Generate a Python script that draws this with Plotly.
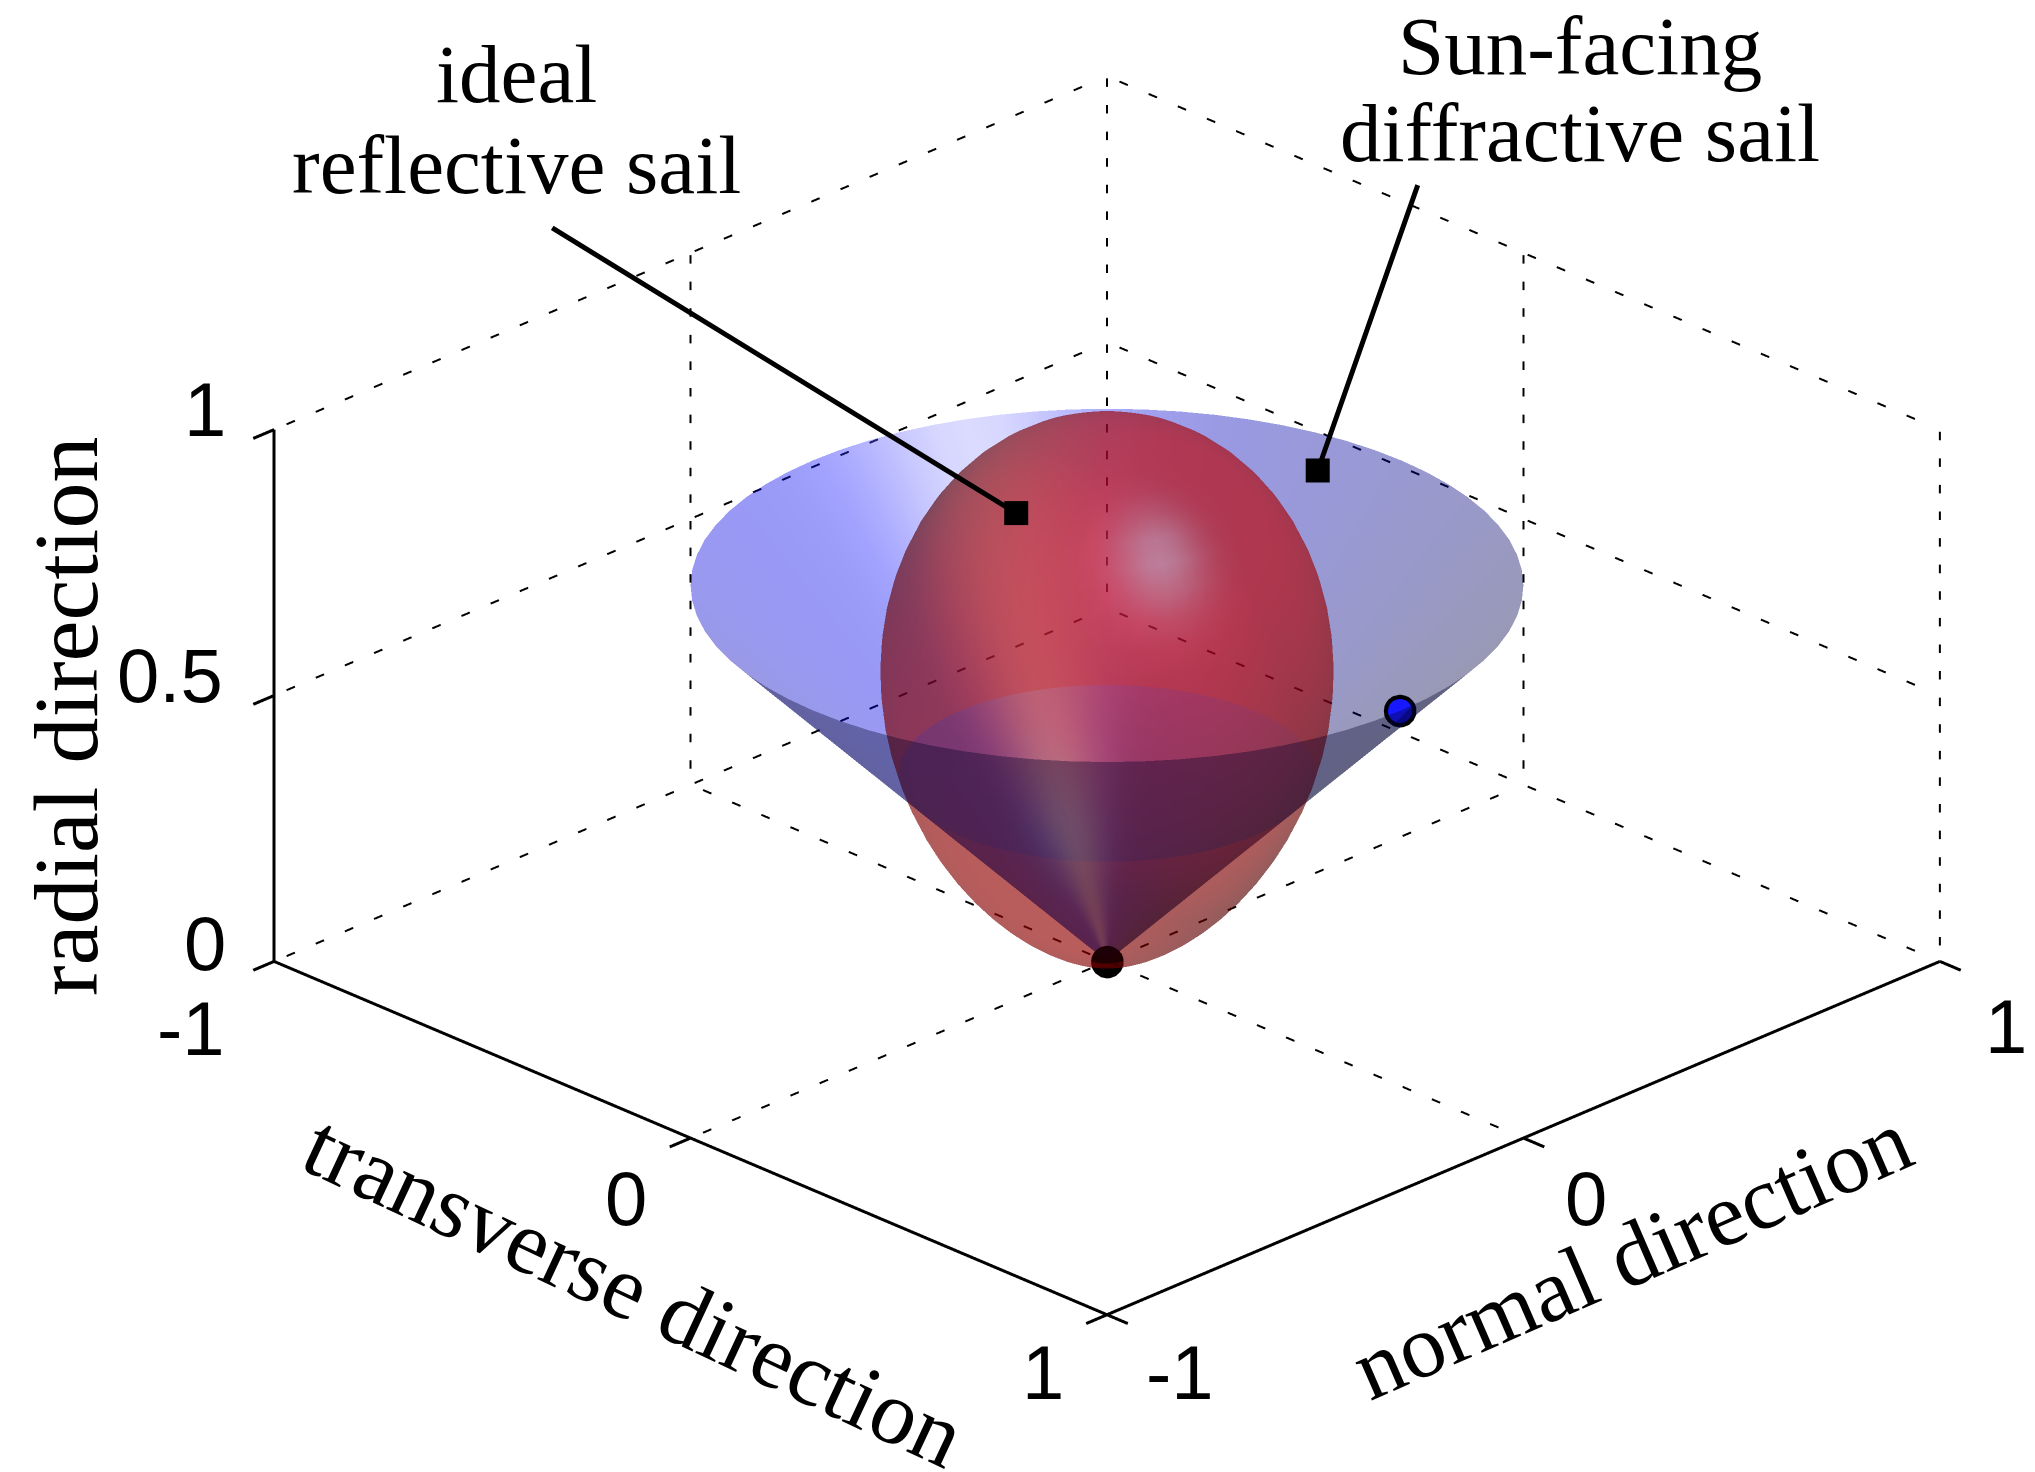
import numpy as np
import plotly.graph_objects as go

W, H = 2035, 1472

# radial profile of the ideal reflective sail
ball_z = [1.0, .99715, .9886, .97455, .9551, .93057, .9012, .86748, .8298, .78858, .7444, .69789, .6495, .59991, .5497, .49934,
          .4495, .40077, .3536, .30835, .2656, .2256, .1887, .15511, .125, .09845, .0755, .05604, .04, .02719, .0173, .01014,
          .0052, .00222, .0007, .00008, 0.0]
ball_r = [0.0, .04354, .0865, .12831, .1684, .2063, .2415, .27352, .302, .32664, .3471, .3633, .375, .38219, .3849, .38316,
          .3772, .36724, .3536, .33651, .3165, .29401, .2695, .24348, .2165, .18912, .1619, .1353, .1099, .08624, .0647, .04574,
          .0297, .01689, .0076, .0019, 0.0]
# profile of the Sun-facing diffractive sail
cone_z = [0.0, .1, .2, .3, .3536, .4, .5, .6, .707]
cone_r = [0.0, .1, .2, .3, .3536, .4, .5, .6, .707]
# markers
blue_point = (0.394, 0.309, 0.5)
origin_point = (0.0, 0.0, 0.0)
# ticks
t_ticks = [-1, 0, 1]
n_ticks = [-1, 0, 1]
z_ticks = [0, 0.5, 1]

az = np.radians(np.arange(0, 361, 5))
elev = np.radians(25.1)
S2 = np.sqrt(2)


def uvz(a, b, c):
    """vector given in screen-right / screen-back / up, as x, y, z"""
    return np.array([(a - b) / S2, (a + b) / S2, c])


VIEW = uvz(0, -np.cos(elev), np.sin(elev))
HALF = uvz(.25, -.70, .66)
HALF = HALF / np.linalg.norm(HALF)
LIGHT = 2 * HALF.dot(VIEW) * HALF - VIEW
KD, KS, POW = 0.76, 0.7, 40


def layer(r, z, base, ka, front, zlo=-1.0, zhi=2.0, opacity=0.4):
    """One draw layer of a surface of revolution: its viewer-facing or far side, between two heights."""
    r = np.array(r, float)
    z = np.array(z, float)
    nr, na = len(r), len(az)
    dr = np.gradient(r)
    dz = np.gradient(z)
    L = np.hypot(dr, dz) + 1e-12
    nh = np.abs(dz) / L
    nv = -np.sign(dz) * dr / L
    X = np.outer(r, np.cos(az))
    Y = np.outer(r, np.sin(az))
    Z = np.outer(z, np.ones(na))
    NX = np.outer(nh, np.cos(az))
    NY = np.outer(nh, np.sin(az))
    NZ = np.outer(nv, np.ones(na))
    facing = NX * VIEW[0] + NY * VIEW[1] + NZ * VIEW[2]
    ti, tj, tk = [], [], []
    for a in range(nr - 1):
        for b in range(na - 1):
            zm = (Z[a, b] + Z[a + 1, b]) / 2
            fm = (facing[a, b] + facing[a + 1, b] + facing[a, b + 1] + facing[a + 1, b + 1]) / 4
            if zlo < zm < zhi and (fm >= 0) == front:
                p, q, s, t = a * na + b, a * na + b + 1, (a + 1) * na + b, (a + 1) * na + b + 1
                ti += [p, q]
                tj += [q, t]
                tk += [s, s]
    sg = 1.0 if front else -1.0
    dl = np.clip(sg * (NX * LIGHT[0] + NY * LIGHT[1] + NZ * LIGHT[2]), 0, 1)
    sp = np.clip(sg * (NX * HALF[0] + NY * HALF[1] + NZ * HALF[2]), 0, 1) ** POW
    cols = []
    for d_, s_ in zip(dl.ravel(), sp.ravel()):
        c = [min(255, int(base[i] * (ka + KD * d_) + 255 * KS * s_)) for i in range(3)]
        cols.append(f"rgb({c[0]},{c[1]},{c[2]})")
    return go.Mesh3d(x=X.ravel(), y=Y.ravel(), z=Z.ravel(), i=ti, j=tj, k=tk, vertexcolor=cols, opacity=opacity,
                     flatshading=False, lighting=dict(ambient=1, diffuse=0, specular=0, roughness=1, fresnel=0),
                     hoverinfo="skip", showscale=False)


def segs(pairs):
    xs, ys, zs = [], [], []
    for a, b in pairs:
        xs += [a[0], b[0], None]
        ys += [a[1], b[1], None]
        zs += [a[2], b[2], None]
    return xs, ys, zs


def dashed(pairs, step, dash):
    """Cut each grid line into short dashes of fixed data length."""
    out = []
    for a, b in pairs:
        a = np.array(a, float)
        b = np.array(b, float)
        length = np.linalg.norm(b - a)
        e_ = (b - a) / length
        pos = 0.03
        while pos + dash < length:
            out.append((tuple(a + e_ * pos), tuple(a + e_ * (pos + dash))))
            pos += step
    return out


grid_h = []
grid_v = []
for v in t_ticks:
    grid_h.append(((v, -1, 0), (v, 1, 0)))       # floor
    grid_v.append(((v, 1, 0), (v, 1, 1)))        # wall n=1
for v in n_ticks:
    grid_h.append(((-1, v, 0), (1, v, 0)))       # floor
    grid_v.append(((-1, v, 0), (-1, v, 1)))      # wall t=-1
for v in z_ticks:
    grid_h.append(((-1, -1, v), (-1, 1, v)))
    grid_h.append(((-1, 1, v), (1, 1, v)))

axes_solid = [((-1, -1, 0), (1, -1, 0)), ((1, -1, 0), (1, 1, 0)), ((-1, -1, 0), (-1, -1, 1))]
tick_len = 0.05
for v in t_ticks:
    axes_solid.append(((v, -1, 0), (v, -1 - tick_len, 0)))
for v in n_ticks:
    axes_solid.append(((1, v, 0), (1 + tick_len, v, 0)))
for v in z_ticks:
    axes_solid.append(((-1, -1, v), (-1, -1 - tick_len, v)))

fig = go.Figure()
gx, gy, gz = segs(dashed(grid_h, 0.07, 0.02) + dashed(grid_v, 0.05, 0.016))
fig.add_trace(go.Scatter3d(x=gx, y=gy, z=gz, mode="lines", line=dict(color="black", width=4), hoverinfo="skip", showlegend=False))
ax_x, ax_y, ax_z = segs(axes_solid)
fig.add_trace(go.Scatter3d(x=ax_x, y=ax_y, z=ax_z, mode="lines", line=dict(color="black", width=6), hoverinfo="skip", showlegend=False))
fig.add_trace(go.Scatter3d(x=[blue_point[0]], y=[blue_point[1]], z=[blue_point[2]], mode="markers",
                           marker=dict(size=19, color="#000000"), hoverinfo="skip", showlegend=False))
fig.add_trace(go.Scatter3d(x=[blue_point[0] + .05 * VIEW[0]], y=[blue_point[1] + .05 * VIEW[1]], z=[blue_point[2] + .05 * VIEW[2]], mode="markers",
                           marker=dict(size=14, color="#1818ff"), hoverinfo="skip", showlegend=False))
fig.add_trace(go.Scatter3d(x=[origin_point[0]], y=[origin_point[1]], z=[origin_point[2]], mode="markers",
                           marker=dict(size=19, color="#000000"), hoverinfo="skip", showlegend=False))

RED = (255, 0, 0)
BLUE = (0, 0, 255)
KA_R, KA_B = 0.30, 0.16
split = 0.3536
# drawn back to front, so that the transparent layers blend in true depth order
fig.add_trace(layer(ball_r, ball_z, RED, KA_R, False, zhi=split))
fig.add_trace(layer(cone_r, cone_z, BLUE, KA_B, False))
fig.add_trace(layer(ball_r, ball_z, RED, KA_R, False, zlo=split))
fig.add_trace(layer(ball_r, ball_z, RED, KA_R, True, zlo=split))
fig.add_trace(layer(cone_r, cone_z, BLUE, KA_B, True, opacity=0.36))
fig.add_trace(layer(ball_r, ball_z, RED, KA_R, True, zhi=split))


def px(x, y):
    return x / W, 1 - y / H


def label(text, x, y, size, family, angle=0):
    xx, yy = px(x, y)
    return dict(text=text, x=xx, y=yy, xref="paper", yref="paper", showarrow=False, xanchor="center", yanchor="middle",
                textangle=angle, font=dict(size=size, family=family, color="black"))


serif = "Liberation Serif"
sans = "Liberation Sans"
annos = [
    label("ideal", 516, 74, 83, serif),
    label("reflective sail", 516, 165, 83, serif),
    label("Sun-facing", 1580, 46, 83, serif),
    label("diffractive sail", 1580, 133, 83, serif),
    label("radial direction", 66, 717, 92, serif, -90),
    label("transverse direction", 634, 1290, 91, serif, 25),
    label("normal direction", 1631, 1254, 90, serif, -23.5),
    label("1", 205, 410, 76, sans),
    label("0.5", 170, 675, 76, sans),
    label("0", 205, 943, 76, sans),
    label("-1", 191, 1028, 76, sans),
    label("0", 626, 1198, 76, sans),
    label("1", 1043, 1372, 76, sans),
    label("-1", 1180, 1372, 76, sans),
    label("0", 1586, 1198, 76, sans),
    label("1", 2006, 1026, 76, sans),
]

scene_annos = [
    dict(x=-0.109, y=-0.109, z=0.843, text=" ", showarrow=True, ax=-467, ay=-287, arrowhead=7, arrowsize=1.2, arrowwidth=5, arrowcolor="black"),
    dict(x=-0.143, y=0.649, z=0.66, text=" ", showarrow=True, ax=103, ay=-294, arrowhead=7, arrowsize=1.2, arrowwidth=5, arrowcolor="black"),
]

d = 2.0
SCALE = 1.69 * 1394 / 1391
hidden = dict(visible=False)
fig.update_layout(
    width=W, height=H, margin=dict(l=0, r=0, t=0, b=0), paper_bgcolor="white", showlegend=False,
    annotations=annos,
    scene=dict(
        domain=dict(x=[179 / W, 1], y=[1 - 1391 / H, 1]),
        xaxis=dict(range=[-1.2, 1.2], **hidden), yaxis=dict(range=[-1.2, 1.2], **hidden), zaxis=dict(range=[-0.2, 1.2], **hidden),
        aspectmode="manual", aspectratio=dict(x=1.2 * SCALE, y=1.2 * SCALE, z=0.698 * SCALE),
        camera=dict(projection=dict(type="orthographic"), up=dict(x=0, y=0, z=1), center=dict(x=0, y=0, z=0),
                    eye=dict(x=d * np.cos(elev) / S2, y=-d * np.cos(elev) / S2, z=d * np.sin(elev))),
        annotations=scene_annos,
    ),
)
fig.write_html("out.html", post_script="document.body.style.margin='0';", config=dict(displayModeBar=False))
